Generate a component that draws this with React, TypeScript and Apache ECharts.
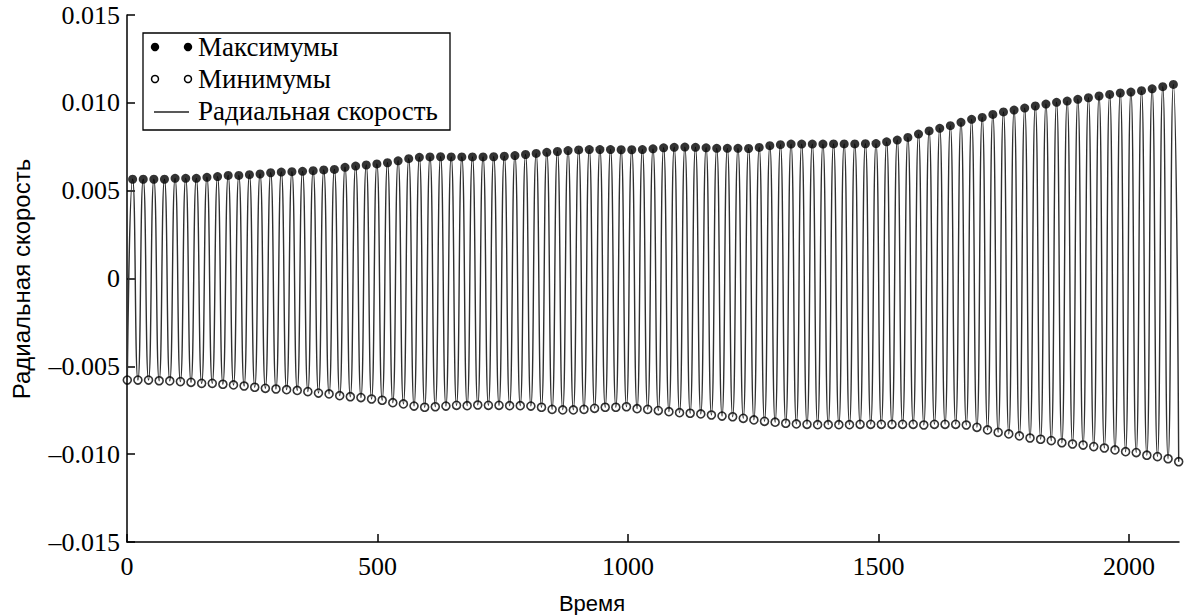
import React, { useEffect, useRef } from "react";
import * as echarts from "echarts";

// Successive maxima of the radial velocity (one per oscillation period)
const maxima: number[] = [
  0.00565, 0.00565, 0.00565, 0.00565, 0.0057, 0.0057, 0.0057, 0.00576, 0.0058, 0.00587,
  0.00587, 0.00591, 0.00595, 0.00602, 0.00606, 0.00608, 0.0061, 0.00614, 0.00618, 0.00621,
  0.00633, 0.0064, 0.00646, 0.00652, 0.00659, 0.0067, 0.00682, 0.0069, 0.00692, 0.00693,
  0.00692, 0.00692, 0.00692, 0.00692, 0.00693, 0.00696, 0.007, 0.00706, 0.00712, 0.00718,
  0.00723, 0.00728, 0.00732, 0.00734, 0.00734, 0.00734, 0.00733, 0.00733, 0.00734, 0.00738,
  0.00744, 0.00747, 0.00748, 0.00747, 0.00744, 0.00741, 0.00741, 0.00741, 0.0074, 0.00746,
  0.00756, 0.00762, 0.00765, 0.00765, 0.00765, 0.00765, 0.00766, 0.00766, 0.00766, 0.00767,
  0.00768, 0.00778, 0.00788, 0.00803, 0.00822, 0.0084, 0.00855, 0.0087, 0.00889, 0.00906,
  0.00917, 0.00934, 0.00948, 0.00959, 0.0097, 0.00982, 0.00993, 0.01003, 0.0101, 0.0102,
  0.01029, 0.01039, 0.01048, 0.01056, 0.01061, 0.01069, 0.0108, 0.01092, 0.01105,
];

// Successive minima of the radial velocity
const minima: number[] = [
  -0.00578, -0.00578, -0.00578, -0.00582, -0.00583, -0.00587, -0.00591, -0.00597, -0.00597, -0.00602,
  -0.00606, -0.00612, -0.00619, -0.00625, -0.00629, -0.00633, -0.00637, -0.00644, -0.00652, -0.00657,
  -0.00667, -0.00673, -0.00678, -0.00686, -0.00693, -0.00707, -0.00714, -0.00726, -0.00733, -0.0073,
  -0.00726, -0.00722, -0.00724, -0.0072, -0.00722, -0.00722, -0.00724, -0.00724, -0.00726, -0.00733,
  -0.00745, -0.00748, -0.00748, -0.00745, -0.00739, -0.00733, -0.00733, -0.0073, -0.00741, -0.00745,
  -0.00752, -0.00758, -0.00764, -0.00767, -0.00771, -0.00777, -0.00783, -0.00787, -0.00796, -0.00805,
  -0.00813, -0.00818, -0.00824, -0.00828, -0.0083, -0.00832, -0.00832, -0.00832, -0.00832, -0.0083,
  -0.0083, -0.0083, -0.0083, -0.0083, -0.0083, -0.00834, -0.0083, -0.0083, -0.0083, -0.00834,
  -0.00847, -0.00862, -0.00876, -0.00885, -0.00896, -0.00908, -0.00915, -0.00923, -0.00935, -0.00942,
  -0.00948, -0.00957, -0.00965, -0.00976, -0.00986, -0.00991, -0.01006, -0.01014, -0.01026, -0.01043,
];

// Oscillation timing: period and the times of the first minimum / maximum
const PERIOD = 21.2;
const FIRST_MIN_T = 0.6;
const FIRST_MAX_T = 11.2;

const yTicks = [-0.015, -0.01, -0.005, 0, 0.005, 0.01, 0.015];
const xTicks = [0, 500, 1000, 1500, 2000];

const legendLabels = ["Максимумы", "Минимумы", "Радиальная скорость"];
const xName = "Время";
const yName = "Радиальная скорость";

const SERIF = "'Liberation Serif', 'Times New Roman', serif";
const SANS = "'Liberation Sans', Arial, sans-serif";

const maxPoints = maxima.map((v, i) => [FIRST_MAX_T + i * PERIOD, v]);
const minPoints = minima.map((v, i) => [FIRST_MIN_T + i * PERIOD, v]);

// Velocity curve passes through the extrema in time order
const curve: number[][] = [];
for (let i = 0; i < minPoints.length; i++) {
  curve.push(minPoints[i]);
  if (i < maxPoints.length) curve.push(maxPoints[i]);
}

const fmtY = (v: number) => {
  if (Math.abs(v) < 1e-12) return "0";
  const s = Math.abs(v).toFixed(3);
  return v < 0 ? "\u2013" + s : s;
};

export default function App() {
  const ref = useRef<HTMLDivElement>(null);

  useEffect(() => {
    if (!ref.current) return;
    const chart = echarts.init(ref.current, undefined, { renderer: "svg" });

    const legendGraphic: any[] = [
      {
        type: "rect",
        shape: { x: 143, y: 33, width: 307, height: 97 },
        style: { fill: "#fff", stroke: "#000", lineWidth: 1.3 },
        z: 100,
      },
      { type: "circle", shape: { cx: 155, cy: 47, r: 4.2 }, style: { fill: "#000" }, z: 101 },
      { type: "circle", shape: { cx: 188, cy: 47, r: 4.2 }, style: { fill: "#000" }, z: 101 },
      { type: "circle", shape: { cx: 155, cy: 79, r: 3.5 }, style: { fill: "#fff", stroke: "#000", lineWidth: 1.5 }, z: 101 },
      { type: "circle", shape: { cx: 188, cy: 79, r: 3.5 }, style: { fill: "#fff", stroke: "#000", lineWidth: 1.5 }, z: 101 },
      { type: "line", shape: { x1: 154, y1: 112, x2: 189, y2: 112 }, style: { stroke: "#222", lineWidth: 1.3 }, z: 101 },
      ...legendLabels.map((t, i) => ({
        type: "text",
        x: 198,
        y: 47 + i * 32,
        style: { text: t, fill: "#000", font: `27px ${SERIF}`, textAlign: "left", textVerticalAlign: "middle" },
        z: 101,
      })),
      {
        type: "text",
        x: 592,
        y: 603,
        style: { text: xName, fill: "#000", font: `22px ${SANS}`, textAlign: "center", textVerticalAlign: "middle" },
      },
      {
        type: "text",
        x: 21,
        y: 279,
        rotation: Math.PI / 2,
        style: { text: yName, fill: "#000", font: `24px ${SANS}`, textAlign: "center", textVerticalAlign: "middle" },
      },
    ];

    chart.setOption({
      animation: false,
      backgroundColor: "#fff",
      grid: { left: 127, right: 5, top: 15, bottom: 73, containLabel: false },
      xAxis: {
        type: "value",
        min: 0,
        max: 2100,
        interval: 500,
        axisLine: { show: true, onZero: false, lineStyle: { color: "#000", width: 1.5 } },
        axisTick: { show: true, inside: true, length: 8, lineStyle: { color: "#000", width: 1.5 } },
        splitLine: { show: false },
        axisLabel: {
          color: "#000",
          fontFamily: SERIF,
          fontSize: 26,
          margin: 11,
          showMaxLabel: false,
          formatter: (v: number) => (xTicks.includes(v) ? String(v) : ""),
        },
      },
      yAxis: {
        type: "value",
        min: yTicks[0],
        max: yTicks[yTicks.length - 1],
        interval: 0.005,
        axisLine: { show: true, onZero: false, lineStyle: { color: "#000", width: 1.5 } },
        axisTick: { show: true, inside: true, length: 8, lineStyle: { color: "#000", width: 1.5 } },
        splitLine: { show: false },
        axisLabel: { color: "#000", fontFamily: SERIF, fontSize: 26, margin: 7, formatter: fmtY },
      },
      series: [
        {
          name: legendLabels[2],
          type: "line",
          data: curve,
          smooth: 0.6,
          showSymbol: false,
          symbol: "none",
          lineStyle: { color: "#303030", width: 1.4 },
          z: 2,
        },
        {
          name: legendLabels[0],
          type: "scatter",
          data: maxPoints,
          symbol: "circle",
          symbolSize: 9,
          itemStyle: { color: "#000" },
          z: 3,
        },
        {
          name: legendLabels[1],
          type: "scatter",
          data: minPoints,
          symbol: "circle",
          symbolSize: 8,
          itemStyle: { color: "rgba(255,255,255,0)", borderColor: "#000", borderWidth: 1.6 },
          z: 3,
        },
      ],
      graphic: legendGraphic,
    });

    return () => chart.dispose();
  }, []);

  return (
    <div
      ref={ref}
      style={{ position: "fixed", left: 0, top: 0, width: 1184, height: 615, background: "#fff" }}
    />
  );
}
